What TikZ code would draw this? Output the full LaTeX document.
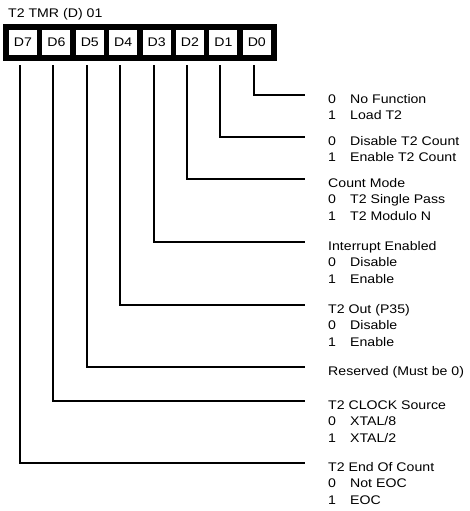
\documentclass[tikz,border=0pt]{standalone}
\usepackage{fontspec}
\setmainfont{Liberation Sans}[FakeStretch=1.13]
\usetikzlibrary{positioning,fit,backgrounds}

\newcommand{\regfont}{\fontsize{12.5}{16.5}\selectfont}
\newcommand{\opt}[2]{\makebox[22pt][l]{#1}#2}

\tikzset{
  bitcell/.style={fill=white, minimum width=28pt, minimum height=25pt, inner sep=0pt, font=\regfont},
  field/.style={line width=2.1pt},
  desc/.style={anchor=base west, inner sep=0pt, font=\regfont},
}

\begin{document}
\begin{tikzpicture}[x=1pt,y=-1pt]
\useasboundingbox (0,0) rectangle (469,511);
\node[desc] (title) at (8,17.5) {T2 TMR (D) 01};
% register cells
\foreach \i in {0,...,7}
  \node[bitcell] (d\i) at ({23+33.4*(7-\i)},42.5) {D\i};
\begin{scope}[on background layer]
  \node[fill=black, inner sep=5.5pt, fit=(d7)(d0)] (reg) {};
\end{scope}
% bit lines
\foreach \i/\y in {0/95,1/137,2/179,3/242,4/305,5/367,6/401,7/463} {
  \coordinate (e\i) at (305,\y);
  \draw[field] ([xshift=-3pt,yshift=-10pt]d\i.south) |- (e\i);
}
% D0
\node[desc] (f0a) at (328,103) {\opt{0}{No Function}};
\node[desc] (f0b) at (328,119.5) {\opt{1}{Load T2}};
% D1
\node[desc] (f1a) at (328,145) {\opt{0}{Disable T2 Count}};
\node[desc] (f1b) at (328,161.5) {\opt{1}{Enable T2 Count}};
% D2
\node[desc] (f2) at (328,187) {Count Mode};
\node[desc] (f2a) at (328,203.5) {\opt{0}{T2 Single Pass}};
\node[desc] (f2b) at (328,220) {\opt{1}{T2 Modulo N}};
% D3
\node[desc] (f3) at (328,250) {Interrupt Enabled};
\node[desc] (f3a) at (328,266.5) {\opt{0}{Disable}};
\node[desc] (f3b) at (328,283) {\opt{1}{Enable}};
% D4
\node[desc] (f4) at (328,313) {T2 Out (P35)};
\node[desc] (f4a) at (328,329.5) {\opt{0}{Disable}};
\node[desc] (f4b) at (328,346) {\opt{1}{Enable}};
% D5
\node[desc] (f5) at (328,375) {Reserved (Must be 0)};
% D6
\node[desc] (f6) at (328,409) {T2 CLOCK Source};
\node[desc] (f6a) at (328,425.5) {\opt{0}{XTAL/8}};
\node[desc] (f6b) at (328,442) {\opt{1}{XTAL/2}};
% D7
\node[desc] (f7) at (328,471) {T2 End Of Count};
\node[desc] (f7a) at (328,487.5) {\opt{0}{Not EOC}};
\node[desc] (f7b) at (328,504) {\opt{1}{EOC}};
\end{tikzpicture}
\end{document}
